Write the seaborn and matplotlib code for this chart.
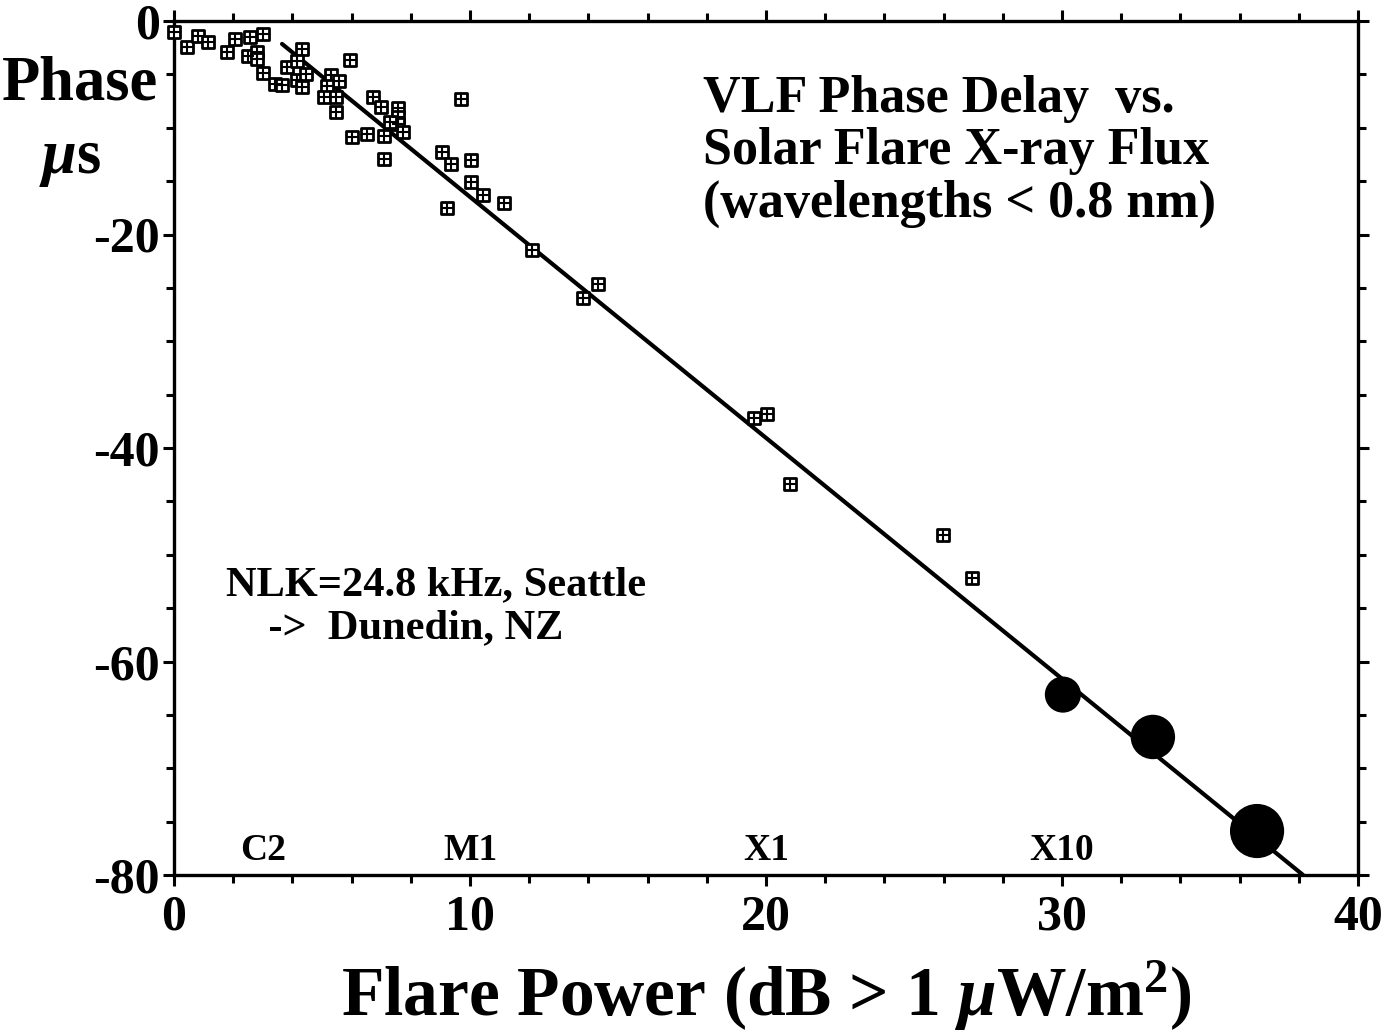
import numpy as np
import pandas as pd
import matplotlib
matplotlib.use("Agg")
import matplotlib.pyplot as plt
from matplotlib.ticker import MultipleLocator
import seaborn as sns

# Measured phase delays for individual flares (dB above 1 uW/m^2, microseconds)
flare_power = [0.00, 0.43, 0.80, 1.16, 1.78, 2.07, 2.57, 3.02, 2.51, 2.81,
               2.81, 3.02, 3.41, 3.64, 3.81, 4.31, 4.14, 4.14, 4.34, 4.46,
               5.32, 5.57, 5.16, 5.07, 5.46, 5.46, 5.95, 6.73, 7.01, 7.58,
               7.58, 7.58, 7.30, 7.73, 6.00, 6.53, 7.09, 7.09, 9.68, 9.06,
               9.36, 10.03, 10.03, 10.43, 11.16, 9.21, 12.08, 13.83, 14.33, 19.59,
               20.02, 20.81, 25.97, 26.95]
phase_delay = [-1.06, -2.47, -1.40, -1.94, -2.90, -1.65, -1.47, -1.22, -3.25, -2.87,
               -3.56, -4.90, -5.90, -5.96, -4.34, -2.62, -3.72, -5.53, -6.15, -5.00,
               -5.06, -5.62, -6.09, -7.09, -7.15, -8.49, -3.65, -7.09, -8.03, -8.18,
               -8.97, -9.65, -9.43, -10.37, -10.84, -10.59, -10.74, -12.93, -7.31, -12.24,
               -13.40, -13.02, -15.08, -16.30, -17.02, -17.49, -21.45, -25.98, -24.64, -37.16,
               -36.80, -43.40, -48.15, -52.20]

# Large X-class events
big_power = [30.03, 33.07, 36.59]
big_delay = [-63.1, -67.07, -75.88]

# Linear fit: phase = intercept + slope * power
fit_intercept = 6.09
fit_slope = -2.257
fit_range = [3.65, 38.14]

# GOES flare class reference positions
class_labels = ["C2", "M1", "X1", "X10"]
class_power = [3.0, 10.0, 20.0, 30.0]

sns.set_theme(style="ticks")
plt.rcParams["font.family"] = ["Liberation Serif", "DejaVu Serif"]
plt.rcParams["font.weight"] = "bold"
plt.rcParams["text.color"] = "black"
plt.rcParams["axes.labelcolor"] = "black"
plt.rcParams["xtick.color"] = "black"
plt.rcParams["ytick.color"] = "black"
plt.rcParams["axes.unicode_minus"] = False
plt.rcParams["mathtext.fontset"] = "custom"
plt.rcParams["mathtext.rm"] = "Liberation Serif:bold"
plt.rcParams["mathtext.it"] = "Liberation Serif:italic:bold"
plt.rcParams["mathtext.bf"] = "Liberation Serif:bold"

fig = plt.figure(figsize=(13.84, 10.35), dpi=100)
ax = fig.add_axes([174 / 1384, 1 - 875 / 1035, (1358 - 174) / 1384, (875 - 21) / 1035])

small = pd.DataFrame({"power": flare_power, "phase": phase_delay})
big = pd.DataFrame({"power": big_power, "phase": big_delay})

# fitted line
fx = np.array(fit_range)
ax.plot(fx, fit_intercept + fit_slope * fx, color="black", lw=3.0, zorder=2, clip_on=True)

# square markers with an inner cross
sns.scatterplot(data=small, x="power", y="phase", ax=ax, marker="s", s=80,
                facecolor="white", edgecolor="black", linewidth=2.0, zorder=3, clip_on=False)
sns.scatterplot(data=small, x="power", y="phase", ax=ax, marker="+", s=80,
                color="black", linewidth=1.5, zorder=4, clip_on=False)

sns.scatterplot(data=big, x="power", y="phase", ax=ax, s=[676, 1024, 1521],
                color="black", edgecolor="black", linewidth=0, zorder=5, legend=False)

ax.set_xlim(0, 40)
ax.set_ylim(-80, 0)
ax.xaxis.set_major_locator(MultipleLocator(10))
ax.xaxis.set_minor_locator(MultipleLocator(2))
ax.yaxis.set_major_locator(MultipleLocator(20))
ax.yaxis.set_minor_locator(MultipleLocator(5))
ax.tick_params(which="both", direction="out", top=True, right=True, width=2.2, color="black")
ax.tick_params(which="major", length=8, labelsize=36, pad=6)
ax.tick_params(which="minor", length=6)
ax.tick_params(axis="y", which="major", pad=2)
for lab in ax.get_xticklabels() + ax.get_yticklabels():
    lab.set_fontweight("bold")
for sp in ax.spines.values():
    sp.set_linewidth(2.4)
    sp.set_color("black")

ax.set_xlabel("Flare Power (dB > 1 $\\mu$W/m$^2$)", fontsize=50, fontweight="bold", labelpad=13)
ax.set_ylabel("")

fig.text(80 / 1384, 1 - 85 / 1035, "Phase", fontsize=45, fontweight="bold",
         ha="center", va="center")
fig.text(70 / 1384, 1 - 160 / 1035, "$\\mu$s", fontsize=45, fontweight="bold",
         ha="center", va="center")

ax.text(0.447, 0.937, "VLF Phase Delay  vs.\nSolar Flare X-ray Flux\n(wavelengths < 0.8 nm)",
        transform=ax.transAxes, fontsize=37.5, fontweight="bold", ha="left", va="top",
        linespacing=1.12)

ax.text(0.044, 0.362, "NLK=24.8 kHz, Seattle\n    ->  Dunedin, NZ", transform=ax.transAxes,
        fontsize=30.5, fontweight="bold", ha="left", va="top", linespacing=1.2)

for lab, px in zip(class_labels, class_power):
    ax.text(px, -77.7, lab, fontsize=27, fontweight="bold", ha="center", va="center")

fig.savefig("out.png", dpi=100, facecolor="white")
